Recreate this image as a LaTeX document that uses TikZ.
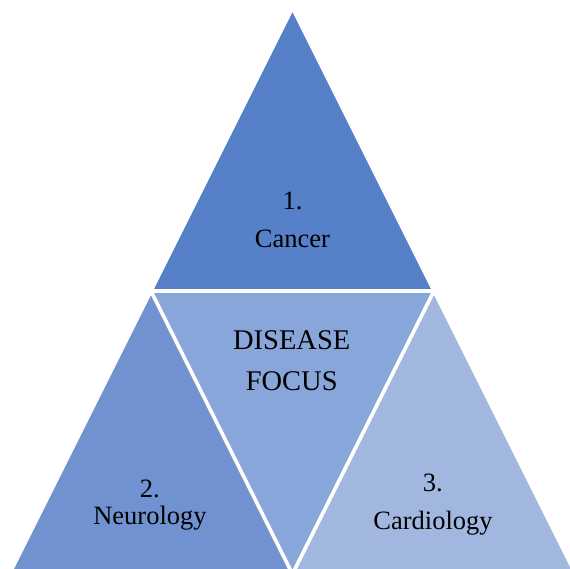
\documentclass[tikz,border=0pt]{standalone}
\usepackage{fontspec}
\setmainfont{Liberation Serif}
\usepackage{tikz}
\definecolor{topBlue}{RGB}{86, 128, 200}
\definecolor{leftBlue}{RGB}{112, 146, 209}
\definecolor{midBlue}{RGB}{137, 166, 218}
\definecolor{rightBlue}{RGB}{161, 183, 224}

\begin{document}
\begin{tikzpicture}[x=1pt, y=-1pt,
    part/.style={draw=white, line width=3.5pt, line join=miter},
    lbl/.style={anchor=base, inner sep=0pt, font=\fontsize{26.5}{30}\selectfont},
    focus/.style={anchor=base, inner sep=0pt, font=\fontsize{28.5}{32}\selectfont}]
        \useasboundingbox (0,0) rectangle (570,569);
        \clip (0,0) rectangle (570,569);
        \fill[white] (0,0) rectangle (570,569);
        % corners of the big triangle and its midpoints
        \coordinate (apex) at (292.5,8);
        \coordinate (midL) at (151,291);
        \coordinate (midR) at (434,291);
        \coordinate (botL) at (9.5,574);
        \coordinate (botM) at (292.5,574);
        \coordinate (botR) at (575.5,574);
        \filldraw[part, fill=topBlue] (apex) -- (midR) -- (midL) -- cycle;
        \filldraw[part, fill=leftBlue] (midL) -- (botM) -- (botL) -- cycle;
        \filldraw[part, fill=midBlue] (midL) -- (midR) -- (botM) -- cycle;
        \filldraw[part, fill=rightBlue] (midR) -- (botR) -- (botM) -- cycle;
        \node[lbl] (cancerNum) at (292.5,209.5) {1.};
        \node[lbl] (cancer) at (292.5,247.7) {Cancer};
        \node[focus] (disease) at (291.7,349.3) {DISEASE};
        \node[focus] (focusTxt) at (291.7,390.7) {FOCUS};
        \node[lbl] (neuroNum) at (149.8,497.3) {2.};
        \node[lbl] (neuro) at (150,524.3) {Neurology};
        \node[lbl] (cardioNum) at (432.7,491.7) {3.};
        \node[lbl] (cardio) at (433,529.3) {Cardiology};
      \end{tikzpicture}
\end{document}
